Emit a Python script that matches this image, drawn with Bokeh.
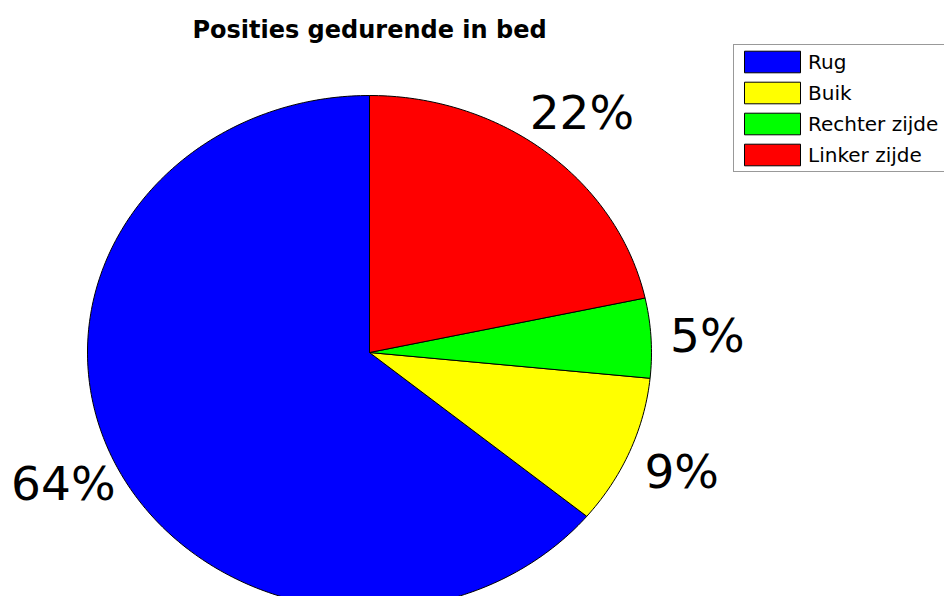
import numpy as np
from bokeh.plotting import figure
from bokeh.models import ColumnDataSource, Legend, LegendItem, Label, Range1d
from bokeh.core.properties import value
from bokeh.embed import file_html
from bokeh.resources import INLINE

title = "Posities gedurende in bed"
categories = ["Rug", "Buik", "Rechter zijde", "Linker zijde"]
values = [64.0, 9.4, 5.0, 21.6]
colors = ["#0000FF", "#FFFF00", "#00FF00", "#FF0000"]

W, H = 944, 596
CX, CY = 369, 352      # pie centre (px from top-left)
RX, RY = 282, 257      # pie radii in px
p = figure(width=W, height=H, output_backend="svg", toolbar_location=None,
           x_axis_location=None, y_axis_location=None, min_border=0,
           x_range=Range1d(-CX / RX, (W - CX) / RX),
           y_range=Range1d(-(H - CY) / RY, CY / RY))
p.grid.visible = False
p.outline_line_color = None
p.background_fill_color = "white"
p.border_fill_color = "white"

total = sum(values)
fracs = [v / total for v in values]
start = np.pi / 2
xs, ys, lx, ly, ltxt = [], [], [], [], []
for f in fracs:
    end = start + 2 * np.pi * f
    t = np.linspace(start, end, max(int(400 * f), 8))
    xs.append(np.concatenate([[0.0], np.cos(t), [0.0]]).tolist())
    ys.append(np.concatenate([[0.0], np.sin(t), [0.0]]).tolist())
    mid = (start + end) / 2
    lx.append(1.2 * np.cos(mid))
    ly.append(1.2 * np.sin(mid))
    ltxt.append(f"{round(f * 100):d}%")
    start = end

src = ColumnDataSource(dict(xs=xs, ys=ys, color=colors, name=categories))
r = p.patches("xs", "ys", source=src, fill_color="color", line_color="black", line_width=1)

lsrc = ColumnDataSource(dict(x=lx, y=ly, t=ltxt))
p.text("x", "y", text="t", source=lsrc, text_align="center", text_baseline="middle",
       text_font=value("DejaVu Sans"), text_font_size="47px", text_color="black")

items = [LegendItem(label=c, renderers=[r], index=i) for i, c in enumerate(categories)]
legend = Legend(items=items, location=(733, 424), padding=3, spacing=4,
                glyph_width=70, glyph_height=27, label_standoff=1,
                label_text_font="DejaVu Sans", label_text_font_size="20px",
                label_text_color="black", label_width=150,
                label_height=27, border_line_color="#333333", border_line_width=1,
                background_fill_color="white", background_fill_alpha=1, margin=0)
p.add_layout(legend, "center")

p.add_layout(Label(x=CX, y=H - 29.5, x_units="screen", y_units="screen", text=title,
                   text_align="center", text_baseline="alphabetic",
                   text_font="DejaVu Sans", text_font_style="bold", text_font_size="24px",
                   text_color="black"))

open("out.html", "w").write(file_html(p, INLINE))
